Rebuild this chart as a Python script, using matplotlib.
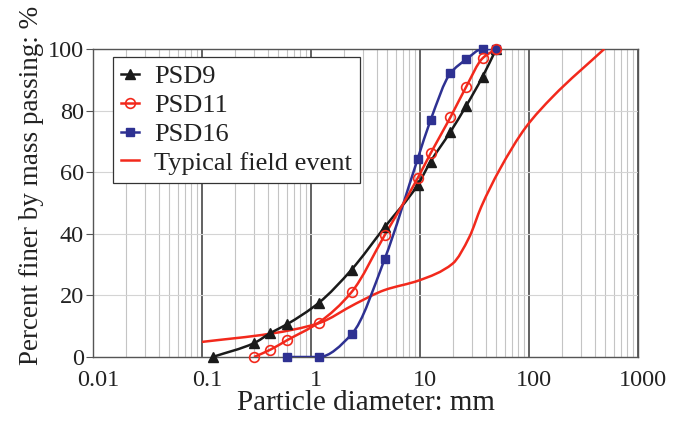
import numpy as np
import matplotlib
matplotlib.use("Agg")
import matplotlib.pyplot as plt
from matplotlib.path import Path
from matplotlib.patches import PathPatch
from matplotlib.lines import Line2D
from matplotlib.ticker import LogLocator, NullFormatter
from matplotlib.transforms import ScaledTranslation

# ---- data ----
psd9_d = [0.125, 0.3, 0.425, 0.6, 1.18, 2.36, 4.75, 9.5, 12.5, 19, 26.5, 37.5, 50]
psd9_p = [0, 4.5, 7.8, 10.6, 17.6, 28.4, 42.2, 55.8, 63.4, 73.1, 81.5, 91, 100]

psd11_d = [0.3, 0.425, 0.6, 1.18, 2.36, 4.75, 9.5, 12.5, 19, 26.5, 37.5, 50]
psd11_p = [0, 2.4, 5.4, 11.2, 21.1, 39.6, 58, 66.1, 77.8, 87.7, 97, 100]

psd16_d = [0.6, 1.18, 2.36, 4.75, 9.5, 12.5, 19, 26.5, 37.5, 50]
psd16_p = [0, 0, 7.4, 31.9, 64.2, 76.9, 92.1, 96.6, 100, 100]

field_d = [0.1, 0.43, 1.16, 2.6, 4.7, 9.85, 19.9, 28.4, 36.4, 53.5, 94, 165, 490]
field_p = [4.9, 7.6, 10.9, 17.4, 21.7, 24.9, 30.3, 39, 48.7, 60.7, 74.7, 84.5, 100]

xticks = [0.01, 0.1, 1, 10, 100, 1000]
xticklabels = ["0.01", "0.1", "1", "10", "100", "1000"]
yticks = [0, 20, 40, 60, 80, 100]

BLACK = "#1a1a1a"
RED = "#f2291c"
BLUE = "#2e3192"
TXT = "#222222"

plt.rcParams['font.family'] = ['Liberation Serif', 'DejaVu Serif']


def smooth_path(d, p):
    """Monotone cubic (Fritsch-Carlson) through points, in log10(x) space, as a Bezier path."""
    t = np.log10(np.asarray(d, float))
    y = np.asarray(p, float)
    n = len(t)
    h = np.diff(t)
    delta = np.diff(y) / h
    m = np.zeros(n)
    m[0] = delta[0]
    m[-1] = delta[-1]
    for i in range(1, n - 1):
        if delta[i - 1] * delta[i] <= 0:
            m[i] = 0.0
        else:
            w1 = 2 * h[i] + h[i - 1]
            w2 = h[i] + 2 * h[i - 1]
            m[i] = (w1 + w2) / (w1 / delta[i - 1] + w2 / delta[i])
    verts = [(10 ** t[0], y[0])]
    codes = [Path.MOVETO]
    for i in range(n - 1):
        c1 = (t[i] + h[i] / 3, y[i] + m[i] * h[i] / 3)
        c2 = (t[i + 1] - h[i] / 3, y[i + 1] - m[i + 1] * h[i] / 3)
        verts += [(10 ** c1[0], c1[1]), (10 ** c2[0], c2[1]), (10 ** t[i + 1], y[i + 1])]
        codes += [Path.CURVE4] * 3
    return Path(verts, codes)


fig = plt.figure(figsize=(6.9, 4.21), dpi=100)
ax = fig.add_axes([93 / 690, 1 - 357 / 421, (638 - 93) / 690, (357 - 49) / 421])
ax.set_xscale('log')
ax.set_xlim(0.01, 1000)
ax.set_ylim(0, 100)

# grid
ax.xaxis.set_minor_locator(LogLocator(base=10, subs=np.arange(2, 10)))
ax.xaxis.set_minor_formatter(NullFormatter())
ax.grid(True, which='minor', axis='x', color='#c4c4c4', lw=0.8)
ax.grid(True, which='major', axis='x', color='#555555', lw=1.3)
ax.grid(True, which='major', axis='y', color='#d4d4d4', lw=0.8)
ax.set_axisbelow(True)

lw = 1.8
for d, p, c, z in [(field_d, field_p, RED, 3), (psd9_d, psd9_p, BLACK, 4),
                   (psd16_d, psd16_p, BLUE, 4), (psd11_d, psd11_p, RED, 5)]:
    ax.add_patch(PathPatch(smooth_path(d, p), fill=False, edgecolor=c, lw=lw, zorder=z,
                           clip_on=True))

ax.plot(psd9_d, psd9_p, ls='none', marker='^', ms=6.5, color=BLACK, zorder=6, clip_on=False)
ax.plot(psd16_d, psd16_p, ls='none', marker='s', ms=6, color=BLUE, zorder=6, clip_on=False)
ax.plot(psd11_d, psd11_p, ls='none', marker='o', ms=7, mfc='none', mec=RED, mew=1.2,
        zorder=7, clip_on=False)

ax.set_xticks(xticks)
ax.set_xticklabels(xticklabels)
ax.set_yticks(yticks)
ax.tick_params(axis='y', which='major', labelsize=17.5, length=5, width=0.8,
               color='#555555', pad=1.5, labelcolor=TXT)
ax.tick_params(axis='x', which='major', labelsize=17.5, length=0, pad=9,
               labelcolor=TXT)
ax.tick_params(axis='x', which='minor', length=0)
shift = ScaledTranslation(5 / 100, 0, fig.dpi_scale_trans)
for lab in ax.get_xticklabels():
    lab.set_transform(lab.get_transform() + shift)
for s in ax.spines.values():
    s.set_color('#555555')
    s.set_linewidth(1.0)

ax.set_xlabel("Particle diameter: mm", fontsize=21, color=TXT, labelpad=0)
ax.set_ylabel("Percent finer by mass passing: %", fontsize=19.5, color=TXT, labelpad=4)
ax.yaxis.set_label_coords(-0.09, 0.557)

handles = [
    Line2D([], [], color=BLACK, lw=lw, marker='^', ms=6.5),
    Line2D([], [], color=RED, lw=lw, marker='o', ms=7, mfc='none', mew=1.2),
    Line2D([], [], color=BLUE, lw=lw, marker='s', ms=6),
    Line2D([], [], color=RED, lw=lw),
]
leg = ax.legend(handles, ["PSD9", "PSD11", "PSD16", "Typical field event"],
                loc='upper left', bbox_to_anchor=(20 / 545, 1 - 8 / 308), fontsize=19,
                frameon=True, fancybox=False, edgecolor='#333333', framealpha=1,
                handlelength=0.7, handletextpad=0.55, labelspacing=0.2, borderpad=0.3,
                borderaxespad=0, numpoints=1)
leg.get_frame().set_linewidth(0.9)
for t in leg.get_texts():
    t.set_color(TXT)

fig.savefig("out.png", dpi=100)
